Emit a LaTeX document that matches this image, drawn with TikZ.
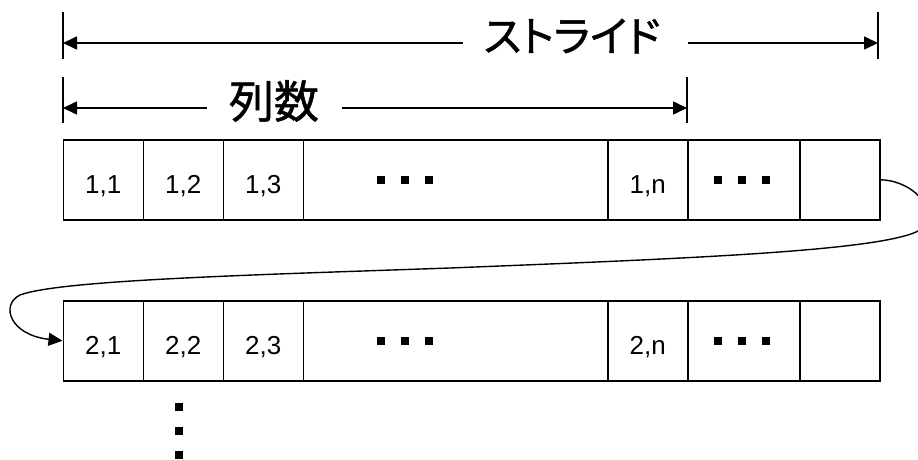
\documentclass[tikz,border=0pt]{standalone}
\usepackage{fontspec}
\setmainfont{Liberation Sans}
\newfontfamily\jp[RawFeature=+palt, FakeBold=1.2]{Noto Sans CJK JP}
\usetikzlibrary{arrows.meta}
\begin{document}
\begin{tikzpicture}[x=1pt,y=-1pt, line width=1.6pt,
  cell/.style={draw, minimum height=80pt, inner sep=0pt, anchor=north west,
    text height=27pt, text depth=0pt, font=\fontsize{26}{26}\selectfont},
  arr/.style={-{Triangle[length=14pt,width=13pt]}},
  sq/.style={fill, minimum size=8pt, inner sep=0pt},
  jlabel/.style={inner sep=0pt}]
\useasboundingbox (0,0) rectangle (918,460);
\clip (0,0) rectangle (918,460);

% row 1
\node[cell, minimum width=80pt]    (a1) at (62.5,139) {1,1};
\node[cell, minimum width=80pt]    (a2) at (142.5,139) {1,2};
\node[cell, minimum width=80pt]    (a3) at (222.5,139) {1,3};
\node[cell, minimum width=304.5pt] (a4) at (302.5,139) {};
\node[cell, minimum width=80pt]    (a5) at (607,139) {1,n};
\node[cell, minimum width=112pt]   (a6) at (687,139) {};
\node[cell, minimum width=80pt]    (a7) at (799,139) {};
% row 2
\node[cell, minimum width=80pt]    (b1) at (62.5,300) {2,1};
\node[cell, minimum width=80pt]    (b2) at (142.5,300) {2,2};
\node[cell, minimum width=80pt]    (b3) at (222.5,300) {2,3};
\node[cell, minimum width=304.5pt] (b4) at (302.5,300) {};
\node[cell, minimum width=80pt]    (b5) at (607,300) {2,n};
\node[cell, minimum width=112pt]   (b6) at (687,300) {};
\node[cell, minimum width=80pt]    (b7) at (799,300) {};

% ellipsis squares
\foreach \r in {a,b}{
  \foreach \dx in {78.5,102.5,126.5}
    \node[sq] at ([xshift=\dx pt]\r4.west) {};
  \foreach \dx in {-25.5,-1.5,22.5}
    \node[sq] at ([xshift=\dx pt]\r6.center) {};
}
\foreach \yy in {407,431,455}
  \node[sq] at (179,\yy) {};

% stride dimension
\coordinate (sLt) at (63,12);  \coordinate (sLb) at (63,59);
\coordinate (sRt) at (878,12); \coordinate (sRb) at (878,59);
\coordinate (sL) at (63,43);   \coordinate (sR) at (878,43);
\coordinate (sLe) at (463,43); \coordinate (sRe) at (688,43);
\draw (sLt) -- (sLb);
\draw (sRt) -- (sRb);
\draw[arr] (sLe) -- (sL);
\draw[arr] (sRe) -- (sR);
\node[jlabel, font=\jp\fontsize{42}{42}\selectfont] (stride) at (572,36) {ストライド};

% column-count dimension
\coordinate (cLt) at (63,77);  \coordinate (cLb) at (63,123);
\coordinate (cRt) at (687,77); \coordinate (cRb) at (687,123);
\coordinate (cL) at (63,108);  \coordinate (cR) at (687,108);
\coordinate (cLe) at (207,108); \coordinate (cRe) at (342,108);
\draw (cLt) -- (cLb);
\draw (cRt) -- (cRb);
\draw[arr] (cLe) -- (cL);
\draw[arr] (cRe) -- (cR);
\node[jlabel, font=\jp\fontsize{45}{45}\selectfont] (cols) at (274,101) {列数};

% wrap-around connector
\draw[arr, line width=1.4pt] (a7.east) .. controls (905,180) and (935,200) .. (925,225)
  .. controls (915,250) and (700,258) .. (450,268)
  .. controls (250,275) and (60,280) .. (20,295)
  .. controls (0,305) and (10,335) .. (b1.west);
\end{tikzpicture}
\end{document}
